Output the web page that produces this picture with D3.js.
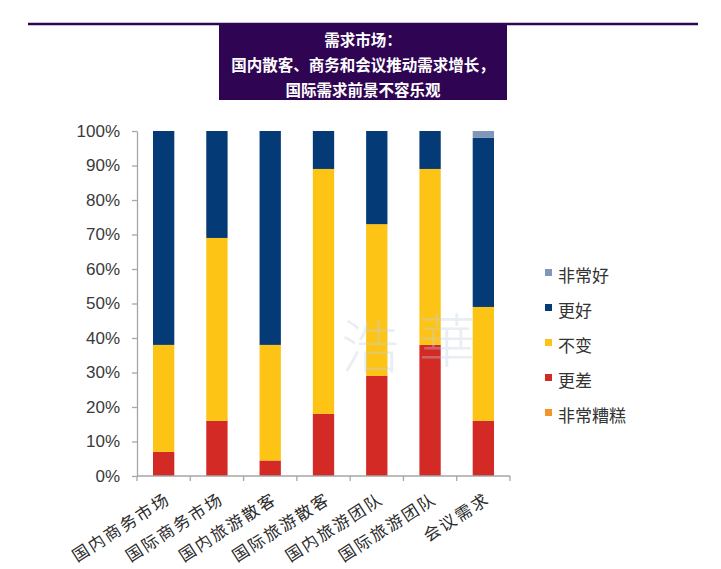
<!DOCTYPE html>
<html lang="zh">
<head>
<meta charset="UTF-8">
<title>需求市场</title>
<script src="https://d3js.org/d3.v7.min.js"></script>
<style>
  body { margin: 0; background: #fff; }
  svg { display: block; }
  .cjk { font-family: "Noto Sans CJK SC", "Noto Sans", sans-serif; }
  .ytick text { font-family: "Liberation Sans", Arial, sans-serif; font-size: 17px; fill: #3a3a3a; }
</style>
</head>
<body>
<svg width="721" height="569"></svg>
<script>
// categories and stacked shares (%)
const categories = ["国内商务市场", "国际商务市场", "国内旅游散客", "国际旅游散客", "国内旅游团队", "国际旅游团队", "会议需求"];
const muchWorse  = [0, 0, 0, 0, 0, 0, 0];
const worse      = [7, 16, 4.5, 18, 29, 38, 16];
const same       = [31, 53, 33.5, 71, 44, 51, 33];
const better     = [62, 31, 62, 11, 27, 11, 49];
const muchBetter = [0, 0, 0, 0, 0, 0, 2];
const yTicks = [0, 10, 20, 30, 40, 50, 60, 70, 80, 90, 100];
const titleLines = ["需求市场：", "国内散客、商务和会议推动需求增长，", "国际需求前景不容乐观"];

// stack order bottom -> top
const series = [
  { key: "非常糟糕", values: muchWorse, color: "#f0962b" },
  { key: "更差", values: worse, color: "#d32a25" },
  { key: "不变", values: same, color: "#fdc315" },
  { key: "更好", values: better, color: "#043a75" },
  { key: "非常好", values: muchBetter, color: "#7e97ba" }
];
// legend reads top -> bottom
const legendOrder = ["非常好", "更好", "不变", "更差", "非常糟糕"];

const svg = d3.select("svg");
const axisColor = "#a6a6a6";

// title band
svg.append("line")
  .attr("x1", 28).attr("x2", 698).attr("y1", 24).attr("y2", 24)
  .attr("stroke", "#2e0453").attr("stroke-width", 2.5);
svg.append("rect")
  .attr("x", 219).attr("y", 23).attr("width", 288).attr("height", 77)
  .attr("fill", "#2e0453");
svg.selectAll(".title")
  .data(titleLines)
  .enter().append("text")
  .attr("class", "title cjk")
  .attr("x", 363)
  .attr("y", (d, i) => [39, 63.5, 88.5][i])
  .attr("dominant-baseline", "central")
  .attr("text-anchor", "middle")
  .attr("font-size", 15.5)
  .attr("font-weight", "bold")
  .attr("fill", "#fff")
  .text(d => d);

// scales
const x = d3.scaleBand().domain(categories).range([137, 510])
  .paddingInner(0.6).paddingOuter(0.3);
const y = d3.scaleLinear().domain([0, 100]).range([476, 131]);

const rows = categories.map((c, i) => {
  const r = { cat: c };
  series.forEach(s => r[s.key] = s.values[i]);
  return r;
});
const stacked = d3.stack().keys(series.map(s => s.key))(rows);
const colorOf = d3.scaleOrdinal().domain(series.map(s => s.key)).range(series.map(s => s.color));

// bars
svg.append("g").selectAll("g")
  .data(stacked)
  .enter().append("g")
  .attr("fill", d => colorOf(d.key))
  .selectAll("rect")
  .data(d => d)
  .enter().append("rect")
  .attr("x", d => x(d.data.cat))
  .attr("width", x.bandwidth())
  .attr("y", d => y(d[1]))
  .attr("height", d => y(d[0]) - y(d[1]));

// faint watermark
svg.append("g").attr("class", "cjk")
  .selectAll("text")
  .data([["浩", 370, 343], ["華", 447, 337]])
  .enter().append("text")
  .attr("x", d => d[1]).attr("y", d => d[2])
  .attr("text-anchor", "middle").attr("dominant-baseline", "central")
  .attr("font-size", 58).attr("font-weight", 300)
  .attr("fill", "#c3d0e0").attr("opacity", 0.35)
  .text(d => d[0]);

// y axis
const yAxis = svg.append("g")
  .attr("class", "ytick")
  .attr("transform", "translate(137,0)")
  .call(d3.axisLeft(y).tickValues(yTicks).tickFormat(d => d + "%")
    .tickSize(5).tickSizeOuter(0).tickPadding(12));
yAxis.selectAll("line, path").attr("stroke", axisColor).attr("stroke-width", 1.3);

// x axis: baseline with ticks between the bands
const step = x.step();
const gap = (step - x.bandwidth()) / 2;
const xg = svg.append("g");
xg.append("line")
  .attr("x1", x.range()[0]).attr("x2", x.range()[1])
  .attr("y1", y(0)).attr("y2", y(0))
  .attr("stroke", axisColor).attr("stroke-width", 1.3);
xg.selectAll(".xt")
  .data(categories.concat([null]))
  .enter().append("line")
  .attr("x1", d => d ? x(d) - gap : x.range()[1])
  .attr("x2", d => d ? x(d) - gap : x.range()[1])
  .attr("y1", y(0)).attr("y2", y(0) + 5)
  .attr("stroke", axisColor).attr("stroke-width", 1.3);

xg.selectAll(".xl")
  .data(categories)
  .enter().append("text")
  .attr("class", "xl cjk")
  .attr("transform", d => `translate(${x(d) + x.bandwidth() / 2 + 8},${y(0) + 26}) rotate(-32.6)`)
  .attr("text-anchor", "end")
  .attr("font-size", 16.5)
  .attr("letter-spacing", "2.2px")
  .attr("fill", "#2a2a2a")
  .text(d => d);

// legend
const legend = svg.append("g").attr("class", "cjk")
  .selectAll("g")
  .data(legendOrder)
  .enter().append("g")
  .attr("transform", (d, i) => `translate(545,${274 + i * 35})`);
legend.append("rect")
  .attr("x", 0).attr("y", -5).attr("width", 7).attr("height", 7)
  .attr("fill", d => colorOf(d));
legend.append("text")
  .attr("x", 13).attr("y", 0)
  .attr("dominant-baseline", "central")
  .attr("font-size", 17)
  .attr("fill", "#333")
  .text(d => d);
</script>
</body>
</html>
